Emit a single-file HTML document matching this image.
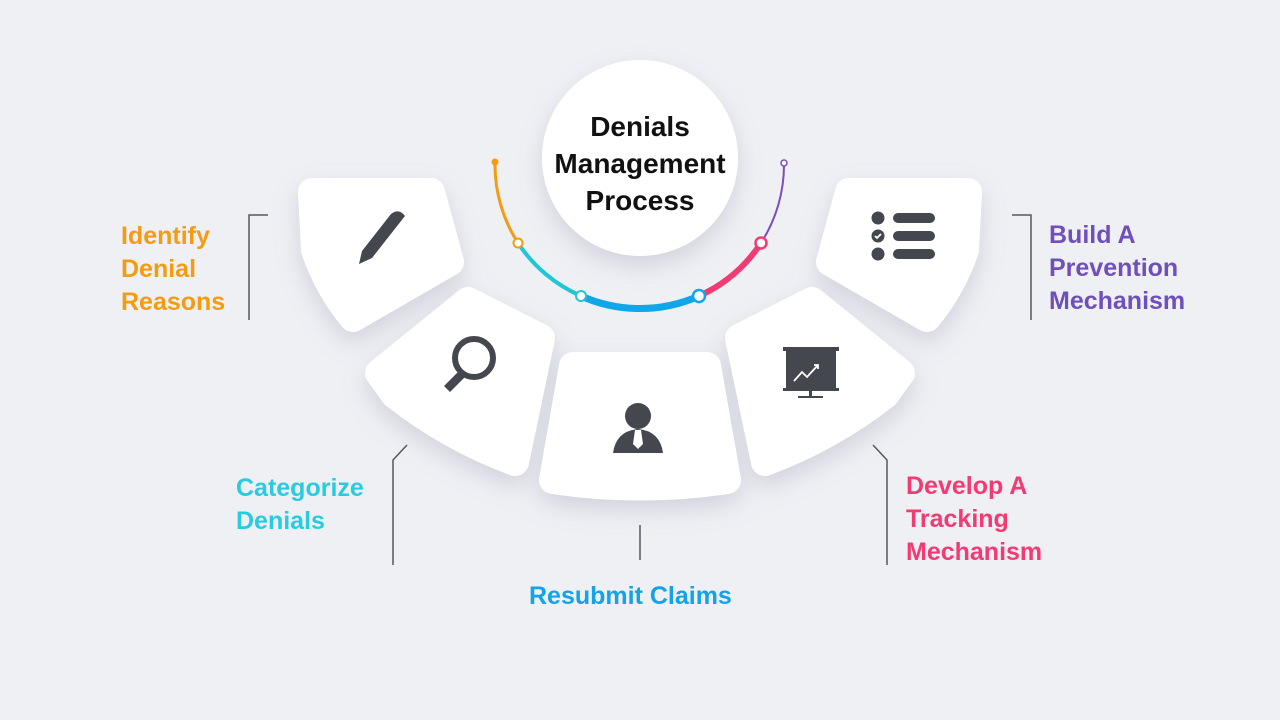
<!DOCTYPE html>
<html><head><meta charset="utf-8"><style>
html,body{margin:0;padding:0;}
body{width:1280px;height:720px;background:#eff0f4;position:relative;overflow:hidden;font-family:"Liberation Sans",sans-serif;}
.lbl{position:absolute;font-weight:bold;font-size:25px;line-height:33px;}
</style></head><body>
<svg width="1280" height="720" style="position:absolute;left:0;top:0">
<defs>
<filter id="sh" x="-50%" y="-50%" width="200%" height="200%">
<feDropShadow dx="0" dy="10" stdDeviation="12" flood-color="#8a8fa8" flood-opacity="0.3"/>
</filter>
</defs>
<g fill="#ffffff" stroke="#ffffff" stroke-width="28" stroke-linejoin="round" filter="url(#sh)">
<path d="M312,192 L431,192 L450,262 L353,318 Q328,288 315,250 Z"/>
<path d="M379,373 L468,301 L541,338 L515,462 Q450,438 395,395 Z"/>
<path d="M573,366 L707,366 L727,480 Q640,493 553,480 Z"/>
<path d="M901,373 L812,301 L739,338 L765,462 Q830,438 885,395 Z"/>
<path d="M968,192 L849,192 L830,262 L927,318 Q952,288 965,250 Z"/>
</g>
<circle cx="640" cy="158" r="98" fill="#fff" filter="url(#sh)"/>
<g fill="none" stroke-linecap="round">
<path d="M495,162 A145,145 0 0 0 518,243" stroke="#f39c12" stroke-width="3"/>
<path d="M518,243 A145,145 0 0 0 581,296" stroke="#1ec6d6" stroke-width="4"/>
<path d="M581,296 A145,145 0 0 0 699,296" stroke="#10a6ea" stroke-width="7"/>
<path d="M699,296 A145,145 0 0 0 761,243" stroke="#f23a73" stroke-width="6"/>
<path d="M761,243 A145,145 0 0 0 784,163" stroke="#7c4dbd" stroke-width="2"/>
</g>
<circle cx="495" cy="162" r="3.5" fill="#f39c12"/>
<circle cx="784" cy="163" r="3" fill="#fff" stroke="#7c4dbd" stroke-width="1.5"/>
<circle cx="518" cy="243" r="4.5" fill="#fff" stroke="#f39c12" stroke-width="2"/>
<circle cx="581" cy="296" r="5" fill="#fff" stroke="#1ec6d6" stroke-width="2"/>
<circle cx="699" cy="296" r="6" fill="#fff" stroke="#10a6ea" stroke-width="2.5"/>
<circle cx="761" cy="243" r="5.5" fill="#fff" stroke="#f23a73" stroke-width="2.5"/>
<g fill="#45474f">
<path d="M391,214 q8,-6 14,2 l-33,42 -13,6 3,-13 z"/>
<circle cx="474" cy="358" r="19" fill="none" stroke="#45474f" stroke-width="6"/>
<path d="M459,371 l-15,15 6,6 15,-15 z"/>
<circle cx="638" cy="416" r="13"/>
<path d="M613,453 q3,-22 25,-24 q22,2 25,24 z"/>
<path d="M635,430 l6,0 2,14 -5,5 -5,-5 z" fill="#fff"/>
<rect x="783" y="347" width="56" height="4"/>
<rect x="786" y="351" width="50" height="37"/>
<rect x="783" y="388" width="56" height="3"/>
<rect x="809" y="391" width="3" height="6"/>
<rect x="798" y="396" width="25" height="2"/>
<circle cx="878" cy="218" r="6.5"/>
<circle cx="878" cy="236" r="6.5"/>
<circle cx="878" cy="254" r="6.5"/>
<rect x="893" y="213" width="42" height="10" rx="5"/>
<rect x="893" y="231" width="42" height="10" rx="5"/>
<rect x="893" y="249" width="42" height="10" rx="5"/>
</g>
<path d="M875,236 l2,2 4,-4" stroke="#fff" stroke-width="1.8" fill="none"/>
<path d="M794,381 l8,-9 5,5 11,-12 M814,365 h4 v4" stroke="#fff" stroke-width="1.8" fill="none"/>
<g fill="none" stroke="#55575f" stroke-width="1.5">
<path d="M268,215 H249 V320"/>
<path d="M407,445 L393,460 V565"/>
<path d="M640,525 V560"/>
<path d="M873,445 L887,460 V565"/>
<path d="M1012,215 H1031 V320"/>
</g>
</svg>
<div class="lbl" style="left:540px;top:108px;width:200px;text-align:center;color:#111;font-size:28px;line-height:37px;">Denials<br>Management<br>Process</div>
<div class="lbl" style="left:121px;top:220px;color:#f39c12">Identify<br>Denial<br>Reasons</div>
<div class="lbl" style="left:236px;top:472px;color:#28cbe0">Categorize<br>Denials</div>
<div class="lbl" style="left:529px;top:580px;color:#12a3e8">Resubmit Claims</div>
<div class="lbl" style="left:906px;top:470px;color:#f23a73">Develop A<br>Tracking<br>Mechanism</div>
<div class="lbl" style="left:1049px;top:219px;color:#6f4fbb">Build A<br>Prevention<br>Mechanism</div>
</body></html>
